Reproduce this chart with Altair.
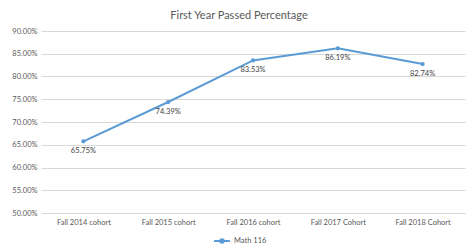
import altair as alt
import pandas as pd

cohorts = ["Fall 2014 cohort", "Fall 2015 cohort", "Fall 2016 cohort", "Fall 2017 Cohort", "Fall 2018 Cohort"]
values = [0.6575, 0.7439, 0.8353, 0.8619, 0.8274]
series = "Math 116"

df = pd.DataFrame({"cohort": cohorts, "value": values, "series": [series] * len(cohorts)})

FONT = "Lato"
GRAY = "#595959"
BLUE = "#5B9BD5"

x = alt.X("cohort:O", sort=cohorts, title=None,
          scale=alt.Scale(type="point", padding=0.5),
          axis=alt.Axis(labelAngle=0, domain=False, ticks=False, grid=False,
                        labelPadding=5, labelFontSize=7.5, labelColor=GRAY, labelFont=FONT))
y = alt.Y("value:Q", title=None,
          scale=alt.Scale(domain=[0.5, 0.9], nice=False, zero=False),
          axis=alt.Axis(format=".2%", values=[0.5, 0.55, 0.6, 0.65, 0.7, 0.75, 0.8, 0.85, 0.9],
                        domain=False, ticks=False, gridColor="#D9D9D9", gridWidth=1,
                        labelPadding=4, labelFontSize=7.5, labelColor=GRAY, labelFont=FONT))

line = alt.Chart(df).mark_line(point=alt.OverlayMarkDef(size=18, filled=True, color=BLUE),
                               strokeWidth=2, color=BLUE).encode(
    x=x, y=y,
    color=alt.Color("series:N", scale=alt.Scale(range=[BLUE]),
                    legend=alt.Legend(title=None, orient="none", legendX=172, legendY=201,
                                      symbolType="M-1,0H1M-0.22,0A0.22,0.22 0 1,0 0.22,0A0.22,0.22 0 1,0 -0.22,0",
                                      symbolSize=250, symbolStrokeWidth=2, symbolFillColor=BLUE,
                                      symbolStrokeColor=BLUE, padding=0,
                                      labelFontSize=7.5, labelColor=GRAY, labelFont=FONT, labelOffset=3))
)

labels = alt.Chart(df).mark_text(dy=10, fontSize=7.5, color="#404040", font=FONT).encode(
    x=x, y=y, text=alt.Text("value:Q", format=".2%")
)

chart = (line + labels).properties(
    width=424, height=182,
    autosize=alt.AutoSizeParams(type="none"),
    padding={"left": 33, "top": 23, "right": 1, "bottom": 38},
    title=alt.TitleParams("First Year Passed Percentage", fontSize=11, font=FONT,
                          fontWeight="normal", color=GRAY, dx=-14, offset=6, anchor="middle"),
    background="white",
).configure_view(stroke=None)

chart.save("out.html", embed_options={"renderer": "svg", "actions": False})
